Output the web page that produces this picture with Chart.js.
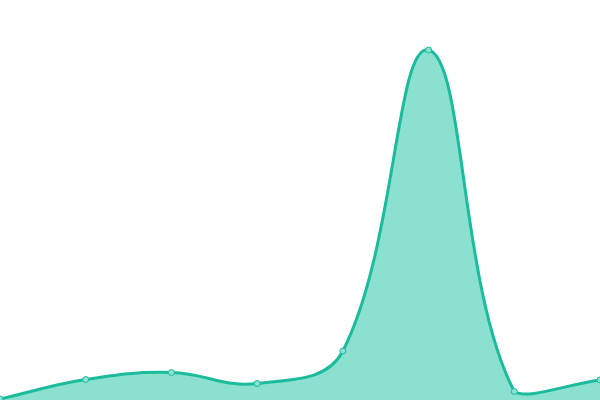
<!DOCTYPE html>
<html>
<head>
<meta charset="utf-8">
<script src="https://cdn.jsdelivr.net/npm/chart.js@4"></script>
<style>
  html, body { margin: 0; padding: 0; background: #fff; }
  #wrap { width: 600px; height: 400px; }
</style>
</head>
<body>
<div id="wrap"><canvas id="area-chart"></canvas></div>
<script>
const labels = ['1', '2', '3', '4', '5', '6', '7', '8'];
const values = [1, 20.5, 27.5, 16.5, 49, 350, 8.5, 20];

document.addEventListener('DOMContentLoaded', () => {
    const ctx = document.getElementById('area-chart').getContext('2d');
    new Chart(ctx, {
        type: 'line',
        data: {
            labels: labels,
            datasets: [{
                data: values,
                fill: true,
                tension: 0.4,
                borderColor: '#1abc9c',
                backgroundColor: '#8be0d0',
                borderWidth: 3,
                pointRadius: 3,
                pointBorderWidth: 1,
                pointBackgroundColor: '#8be0d0',
                pointBorderColor: '#1abc9c',
            }],
        },
        options: {
            responsive: true,
            maintainAspectRatio: false,
            animation: false,
            layout: { padding: 0, autoPadding: false },
            plugins: { legend: { display: false }, tooltip: { enabled: false } },
            scales: {
                x: { display: false, offset: false },
                y: { display: false, min: 0, max: 400 },
            },
        },
    });
});
</script>
</body>
</html>
